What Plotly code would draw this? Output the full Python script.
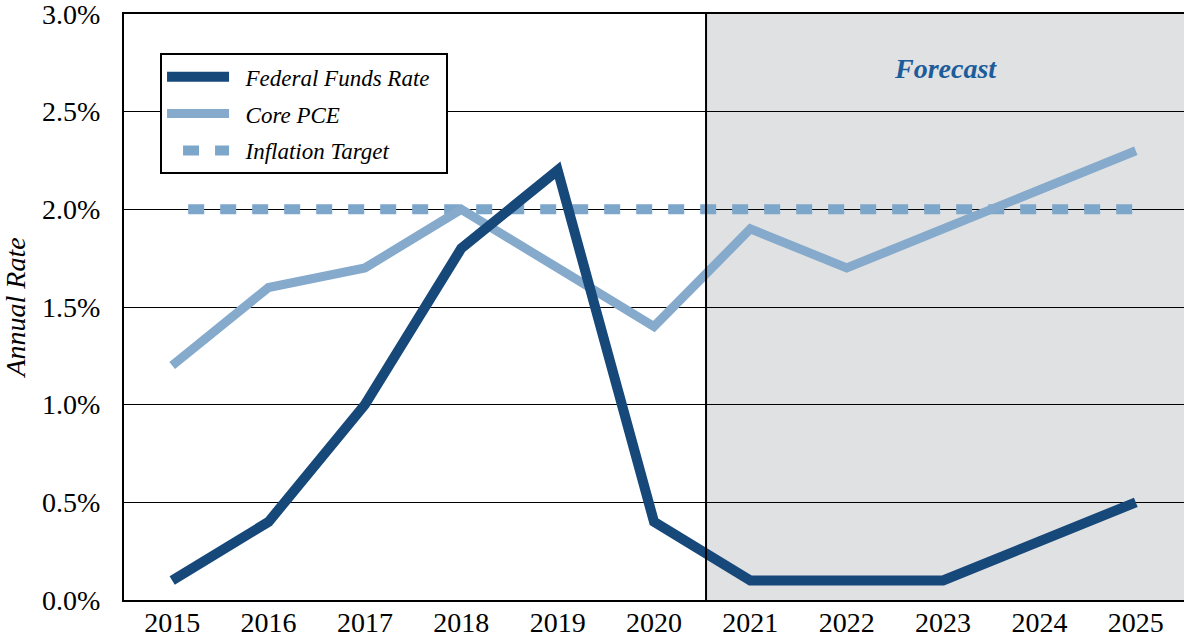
import plotly.graph_objects as go

years = [2015, 2016, 2017, 2018, 2019, 2020, 2021, 2022, 2023, 2024, 2025]
fed_funds = [0.1, 0.4, 1.0, 1.8, 2.2, 0.4, 0.1, 0.1, 0.1, 0.3, 0.5]
core_pce = [1.2, 1.6, 1.7, 2.0, 1.7, 1.4, 1.9, 1.7, 1.9, 2.1, 2.3]
inflation_target = [2.0] * len(years)
y_ticks = [0, 0.5, 1.0, 1.5, 2.0, 2.5, 3.0]
y_tick_labels = ["0.0%", "0.5%", "1.0%", "1.5%", "2.0%", "2.5%", "3.0%"]
forecast_start = 2020.54
forecast_end = 2025.5

FONT = "Liberation Serif"
DARK = "#17487A"
LIGHT = "#86AACB"
DOT = "#7DA7CA"
NB = "\u00a0"

fig = go.Figure()
fig.add_trace(go.Scatter(x=years, y=inflation_target, mode="lines",
                         name=NB * 2 + "Inflation Target" + NB * 2, legendgroup="c",
                         line=dict(color=DOT, width=10, dash="0px,16px,16px,0px"), legendrank=3))
fig.add_trace(go.Scatter(x=years, y=core_pce, mode="lines",
                         name=NB * 2 + "Core PCE" + NB * 2, legendgroup="b",
                         line=dict(color=LIGHT, width=9), legendrank=2))
fig.add_trace(go.Scatter(x=years, y=fed_funds, mode="lines",
                         name=NB * 2 + "Federal Funds Rate" + NB * 2, legendgroup="a",
                         line=dict(color=DARK, width=10), legendrank=1))

fig.add_shape(type="rect", xref="x", yref="y", x0=forecast_start, x1=forecast_end, y0=0, y1=3,
              fillcolor="#E0E1E3", line=dict(width=0), layer="below")
fig.add_shape(type="line", xref="x", yref="y", x0=forecast_start, x1=forecast_start, y0=0, y1=3,
              line=dict(color="black", width=2), layer="above")

fig.add_annotation(x=(forecast_start + forecast_end) / 2, y=2.72, xref="x", yref="y",
                   text="<b><i>Forecast</i></b>", showarrow=False,
                   font=dict(family=FONT, size=28, color="#1D5C9A"))

fig.update_layout(
    width=1185, height=642,
    margin=dict(l=124, r=1, t=14, b=42),
    paper_bgcolor="white", plot_bgcolor="white",
    font=dict(family=FONT, size=28, color="black"),
    showlegend=True,
    legend=dict(x=0.034, y=0.933, xanchor="left", yanchor="top",
                bgcolor="white", bordercolor="black", borderwidth=2,
                font=dict(family=FONT, size=23, style="italic", color="black"),
                itemwidth=62, traceorder="grouped", tracegroupgap=4),
)
fig.update_xaxes(range=[2014.5, 2025.5], tickmode="array", tickvals=years,
                 ticktext=[str(y) for y in years], showgrid=False, zeroline=False,
                 showline=True, linecolor="black", linewidth=2, mirror=True, automargin=False,
                 ticks="", ticklabelstandoff=-4, ticklabeloverflow="allow",
                 tickfont=dict(family=FONT, size=28))
fig.update_yaxes(range=[0, 3], tickmode="array", tickvals=y_ticks, ticktext=y_tick_labels,
                 showgrid=True, gridcolor="black", gridwidth=1, zeroline=False,
                 showline=True, linecolor="black", linewidth=2, automargin=False,
                 ticks="", ticklabelstandoff=16, ticklabeloverflow="allow",
                 tickfont=dict(family=FONT, size=28),
                 title=dict(text="<i>Annual Rate</i>", font=dict(family=FONT, size=28), standoff=12))

fig.write_html("out.html", config={"displayModeBar": False},
               post_script="document.body.style.margin='0';document.body.style.overflow='hidden';")
